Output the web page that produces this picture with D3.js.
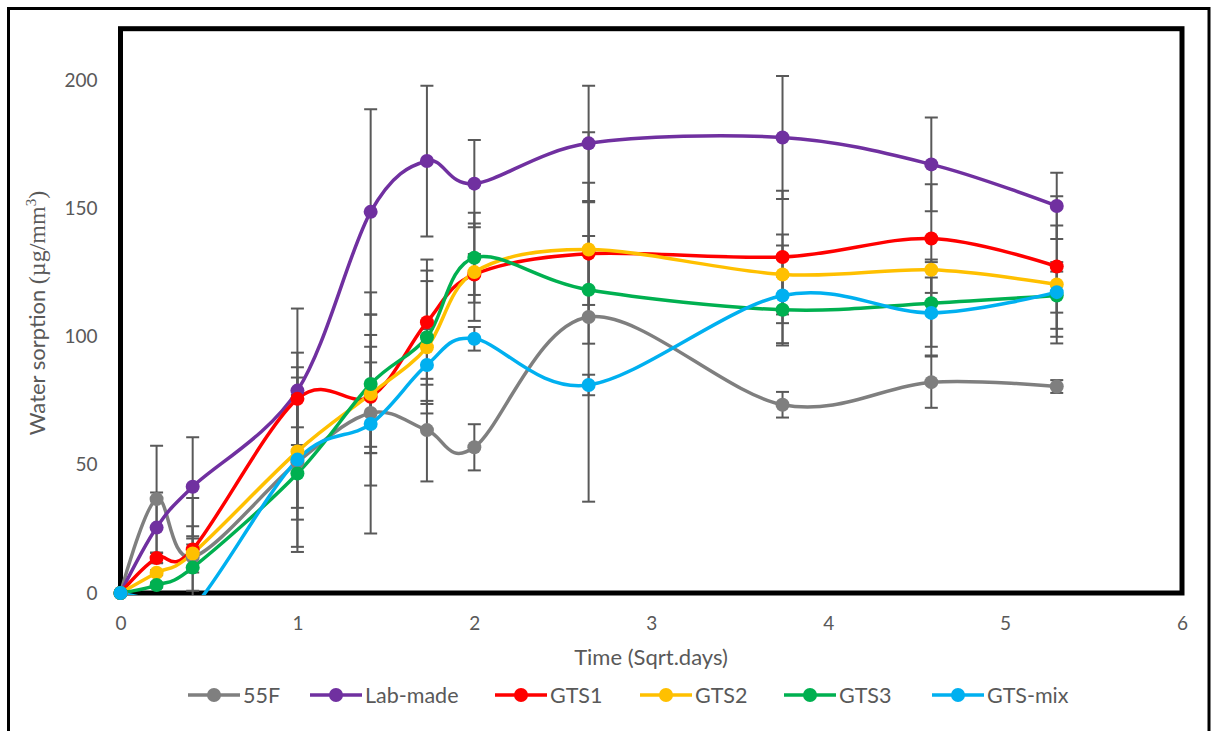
<!DOCTYPE html>
<html>
<head>
<meta charset="utf-8">
<script src="https://cdn.jsdelivr.net/npm/d3@7/dist/d3.min.js"></script>
<style>
  body { margin: 0; background: #fff; }
  svg { display: block; }
  text { font-family: Lato, "Open Sans", sans-serif; fill: #595959; }
</style>
</head>
<body>
<svg id="chart" width="1211" height="731"></svg>
<script>
// Sampling times, in square-root of days
const times = [0, 0.204, 0.408, 1, 1.414, 1.732, 2, 2.646, 3.742, 4.583, 5.292];

const seriesNames = ["55F", "Lab-made", "GTS1", "GTS2", "GTS3", "GTS-mix"];
const seriesColors = ["#7F7F7F", "#7030A0", "#FF0000", "#FFC000", "#00B050", "#00B0F0"];

// Mean water sorption (µg/mm³) per series
const sorption55F     = [0, 36.6, 14.0, 51.0, 70.2, 63.5, 56.8, 107.6, 73.4, 82.2, 80.5];
const sorptionLabMade = [0, 25.5, 41.4, 78.9, 148.6, 168.4, 159.6, 175.3, 177.6, 167.1, 150.9];
const sorptionGTS1    = [0, 13.6, 17.0, 75.7, 76.5, 105.6, 124.2, 132.3, 131.0, 138.2, 127.3];
const sorptionGTS2    = [0, 7.9, 15.4, 55.2, 77.6, 95.8, 125.1, 133.9, 124.2, 126.0, 120.3];
const sorptionGTS3    = [0, 3.1, 9.9, 46.6, 81.5, 99.7, 130.7, 118.2, 110.4, 113.0, 116.0];
const sorptionGTSmix  = [0, -3.0, -6.0, 52.0, 65.9, 88.9, 99.1, 81.1, 116.0, 109.2, 117.3];

// Standard deviations (± error bars)
const sd55F     = [0, 20.8, 23.0, 33.0, 47.0, 20.0, 9.0, 72.0, 5.0, 10.0, 2.5];
const sdLabMade = [0, 13.7, 19.3, 32.0, 40.0, 29.4, 17.0, 22.5, 24.0, 18.3, 12.9];
const sdGTS1    = [0, 2.0, 9.0, 18.0, 19.5, 24.4, 8.0, 20.0, 25.8, 21.2, 27.4];
const sdGTS2    = [0, 1.0, 5.8, 22.0, 23.0, 25.8, 19.0, 26.0, 15.6, 3.0, 23.0];
const sdGTS3    = [0, 1.0, 9.0, 18.0, 27.0, 26.0, 17.5, 21.0, 13.0, 17.0, 13.0];
const sdGTSmix  = [0, 1.0, 3.0, 36.0, 24.0, 14.0, 4.6, 4.0, 19.5, 16.6, 8.0];

const xTicks = [0, 1, 2, 3, 4, 5, 6];
const yTicks = [0, 50, 100, 150, 200];

const allValues = [sorption55F, sorptionLabMade, sorptionGTS1, sorptionGTS2, sorptionGTS3, sorptionGTSmix];
const allErrors = [sd55F, sdLabMade, sdGTS1, sdGTS2, sdGTS3, sdGTSmix];

const series = seriesNames.map((name, i) => ({
  name,
  color: seriesColors[i],
  points: times.map((t, j) => ({ t, v: allValues[i][j], e: allErrors[i][j] }))
}));

const svg = d3.select("#chart");

// Outer chart frame
svg.append("rect")
  .attr("x", 8.5).attr("y", 8.5)
  .attr("width", 1200.5).attr("height", 800)
  .attr("fill", "none").attr("stroke", "#000").attr("stroke-width", 3);

const plot = { left: 120.5, right: 1182, top: 28.7, bottom: 593 };

const x = d3.scaleLinear().domain([0, 6]).range([plot.left, plot.right]);
const y = d3.scaleLinear().domain([0, 220]).range([plot.bottom, plot.top]);

// Plot-area border
svg.append("rect")
  .attr("x", plot.left).attr("y", plot.top)
  .attr("width", plot.right - plot.left).attr("height", plot.bottom - plot.top)
  .attr("fill", "none").attr("stroke", "#000").attr("stroke-width", 5);

svg.append("clipPath").attr("id", "plotClip")
  .append("rect")
  .attr("x", plot.left - 4).attr("y", plot.top - 4)
  .attr("width", plot.right - plot.left + 8).attr("height", plot.bottom - plot.top + 6);

// Axes (labels only)
const yAxis = svg.append("g")
  .attr("transform", `translate(${plot.left},0)`)
  .call(d3.axisLeft(y).tickValues(yTicks).tickFormat(d3.format("d")).tickSize(0).tickPadding(23));
const xAxis = svg.append("g")
  .attr("transform", `translate(0,${plot.bottom})`)
  .call(d3.axisBottom(x).tickValues(xTicks).tickFormat(d3.format("d")).tickSize(0).tickPadding(24));
[yAxis, xAxis].forEach(g => {
  g.select(".domain").remove();
  g.selectAll("text")
    .attr("fill", "#595959")
    .style("font-family", "Lato, 'Open Sans', sans-serif")
    .style("font-size", "19px");
});

// Axis titles
svg.append("text")
  .attr("x", 651).attr("y", 665)
  .attr("text-anchor", "middle")
  .style("font-size", "22px")
  .text("Time (Sqrt.days)");

const yTitle = svg.append("text")
  .attr("transform", "translate(45,313) rotate(-90)")
  .attr("text-anchor", "middle")
  .style("font-size", "22px");
yTitle.append("tspan").text("Water sorption ");
yTitle.append("tspan").style("font-family", "'Liberation Serif', serif").style("font-size", "24px").text("(µg/mm");
yTitle.append("tspan").style("font-family", "'Liberation Serif', serif").style("font-size", "15px").attr("dy", -9).text("3");
yTitle.append("tspan").style("font-family", "'Liberation Serif', serif").style("font-size", "24px").attr("dy", 9).text(")");

const dataLayer = svg.append("g").attr("clip-path", "url(#plotClip)");

// Error bars, under the lines and markers
const capHalf = 6.5;
series.forEach(s => {
  s.points.filter(p => p.e > 0).forEach(p => {
    const cx = x(p.t), y1 = y(p.v + p.e), y0 = y(p.v - p.e);
    const g = dataLayer.append("g").attr("stroke", "#595959").attr("stroke-width", 2);
    g.append("line").attr("x1", cx).attr("x2", cx).attr("y1", y1).attr("y2", y0);
    g.append("line").attr("x1", cx - capHalf).attr("x2", cx + capHalf).attr("y1", y1).attr("y2", y1);
    g.append("line").attr("x1", cx - capHalf).attr("x2", cx + capHalf).attr("y1", y0).attr("y2", y0);
  });
});

// Smoothed lines and markers
const line = d3.line()
  .x(p => x(p.t)).y(p => y(p.v))
  .curve(d3.curveCardinal.tension(0));

series.forEach(s => {
  dataLayer.append("path")
    .attr("d", line(s.points))
    .attr("fill", "none")
    .attr("stroke", s.color)
    .attr("stroke-width", 3.5)
    .attr("stroke-linejoin", "round");
  svg.append("g").selectAll("circle")
    .data(s.points.filter(p => p.v >= 0))
    .join("circle")
    .attr("cx", p => x(p.t)).attr("cy", p => y(p.v))
    .attr("r", 7)
    .attr("fill", s.color);
});

// Legend
const legendX = [214, 336, 521, 666, 810, 958];
const legend = svg.append("g");
series.forEach((s, i) => {
  const g = legend.append("g").attr("transform", `translate(${legendX[i]},695)`);
  g.append("line").attr("x1", -26).attr("x2", 26).attr("stroke", s.color).attr("stroke-width", 3.5);
  g.append("circle").attr("r", 7).attr("fill", s.color);
  g.append("text").attr("x", 29).attr("dy", "0.35em")
    .style("font-size", "21.5px").text(s.name);
});
</script>
</body>
</html>
